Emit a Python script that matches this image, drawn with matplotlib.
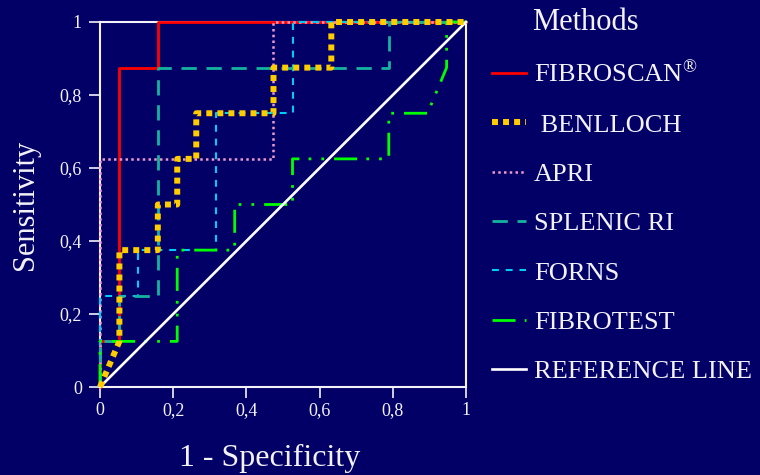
import matplotlib
matplotlib.use('Agg')
from matplotlib import pyplot as plt

# ROC curves (1 - specificity, sensitivity)
fibroscan_x = [0, 0, 0.053, 0.053, 0.158, 0.158, 1]
fibroscan_y = [0, 0.125, 0.125, 0.875, 0.875, 1, 1]

benlloch_x = [0, 0.053, 0.053, 0.158, 0.158, 0.211, 0.211, 0.263, 0.263, 0.474, 0.474, 0.632, 0.632, 1]
benlloch_y = [0, 0.125, 0.375, 0.375, 0.5, 0.5, 0.625, 0.625, 0.75, 0.75, 0.875, 0.875, 1, 1]

apri_x = [0, 0, 0.474, 0.474, 1]
apri_y = [0, 0.625, 0.625, 1, 1]

splenic_x = [0, 0, 0.053, 0.053, 0.158, 0.158, 0.789, 0.789, 1]
splenic_y = [0, 0.125, 0.125, 0.25, 0.25, 0.875, 0.875, 1, 1]

forns_x = [0, 0, 0.105, 0.105, 0.316, 0.316, 0.526, 0.526, 1]
forns_y = [0, 0.25, 0.25, 0.375, 0.375, 0.75, 0.75, 1, 1]

fibrotest_x = [0, 0, 0.211, 0.211, 0.368, 0.368, 0.526, 0.526, 0.789, 0.789, 0.895, 0.947, 0.947, 1]
fibrotest_y = [0, 0.125, 0.125, 0.375, 0.375, 0.5, 0.5, 0.625, 0.625, 0.75, 0.75, 0.875, 1, 1]

ref_x = [0, 1]
ref_y = [0, 1]

ticks = [0, 0.2, 0.4, 0.6, 0.8, 1]
tick_labels = ['0', '0,2', '0,4', '0,6', '0,8', '1']

bg = '#020066'
fg = '#F2F2F8'

plt.rcParams['font.family'] = ['Liberation Serif', 'DejaVu Serif']
plt.rcParams['mathtext.fontset'] = 'custom'
plt.rcParams['mathtext.rm'] = 'Liberation Serif'
plt.rcParams['mathtext.it'] = 'Liberation Serif:italic'

fig = plt.figure(figsize=(7.6, 4.75), dpi=100, facecolor=bg)
ax = fig.add_axes([100 / 760, 1 - 387 / 475, 366 / 760, 365 / 475], facecolor=bg)

l1, = ax.plot(fibroscan_x, fibroscan_y, color='#FF0000', lw=2.0, zorder=3,
              label=r'FIBROSCAN$^{\circledR}$')
l3, = ax.plot(apri_x, apri_y, color='#EE99CC', lw=1.8, ls=(0, (1, 1.3)), zorder=4,
              label='APRI')
l5, = ax.plot(forns_x, forns_y, color='#00CCF5', lw=1.5, ls=(0, (3.3, 3.3)), zorder=5,
              label='FORNS')
l4, = ax.plot(splenic_x, splenic_y, color='#14B4A0', lw=2.0, ls=(0, (5.5, 3.5)), zorder=5,
              label='SPLENIC RI')
l6, = ax.plot(fibrotest_x, fibrotest_y, color='#00FF00', lw=2.0,
              ls=(0, (8.3, 3.3, 1, 3.6, 1, 3.6)), zorder=6, label='FIBROTEST')
l7, = ax.plot(ref_x, ref_y, color='white', lw=1.9, zorder=7, label='REFERENCE LINE')
l2, = ax.plot(benlloch_x, benlloch_y, color='#FFCC00', lw=4.3, ls=(0, (1, 0.85)),
              dash_capstyle='butt', zorder=8, label=' BENLLOCH')
for ln in [l1, l2, l3, l4, l5, l6, l7]:
    ln.set_clip_on(False)

ax.set_xlim(0, 1)
ax.set_ylim(0, 1)
ax.set_xticks(ticks)
ax.set_xticklabels(tick_labels)
ax.set_yticks(ticks)
ax.set_yticklabels(tick_labels)
ax.tick_params(colors=fg, labelsize=13, length=8, width=1.2, direction='out')
ax.tick_params(axis='y', pad=5)
ax.tick_params(axis='x', pad=3)
for s in ax.spines.values():
    s.set_color(fg)
    s.set_linewidth(1.5)

ax.set_xlabel('1 - Specificity', fontsize=23, color=fg)
ax.xaxis.set_label_coords((270 - 100) / 366, -0.155)
ax.set_ylabel('Sensitivity', fontsize=22, color=fg)
ax.yaxis.set_label_coords(-0.165, 0.5)

fig.text(585 / 760, 1 - 22 / 475, 'Methods', fontsize=22, color=fg, ha='center', va='center')

leg = ax.legend(handles=[l1, l2, l3, l4, l5, l6, l7], loc='upper left',
                bbox_to_anchor=(492 / 760, 1 - 61 / 475), bbox_transform=fig.transFigure,
                frameon=False, fontsize=19, handlelength=1.3, handletextpad=0.3,
                labelspacing=0.98, borderpad=0, borderaxespad=0)
for t in leg.get_texts():
    t.set_color(fg)

plt.savefig('out.png', dpi=100, facecolor=bg)
